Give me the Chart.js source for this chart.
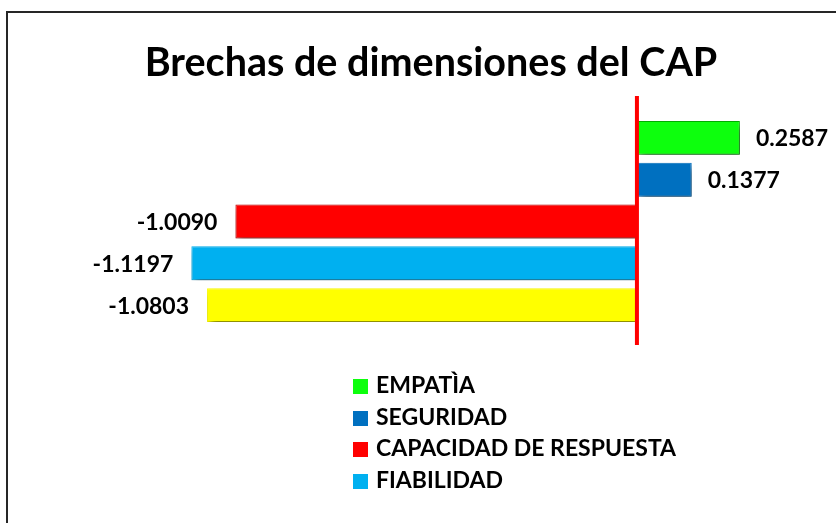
<!DOCTYPE html>
<html>
<head>
<meta charset="utf-8">
<script src="https://cdn.jsdelivr.net/npm/chart.js@4.4.1/dist/chart.umd.min.js"></script>
<style>
  html, body { margin: 0; padding: 0; background: #fff; }
  #wrap { position: relative; width: 836px; height: 523px; overflow: hidden; }
  #marco { position: absolute; left: 6px; top: 11px; width: 900px; height: 600px;
           border-left: 2px solid #262626; border-top: 2px solid #262626; }
  #grafico { position: absolute; left: 0; top: 0; }
  #leyenda { position: absolute; left: 353px; top: 369px; font-family: Lato, sans-serif;
             font-weight: bold; font-size: 23px; color: #000; }
  #leyenda div { height: 31.7px; line-height: 31.7px; white-space: nowrap; }
  #leyenda span { display: inline-block; width: 15px; height: 15px; margin-right: 8px;
                  vertical-align: -1px; }
</style>
</head>
<body>
<div id="wrap">
  <div id="marco"></div>
  <canvas id="grafico" width="836" height="523"></canvas>
  <div id="leyenda"></div>
</div>
<script>
// Datos
const dimensiones = ['EMPATÌA', 'SEGURIDAD', 'CAPACIDAD DE RESPUESTA', 'FIABILIDAD', 'ELEMENTOS TANGIBLES'];
const brechas = [0.2587, 0.1377, -1.0090, -1.1197, -1.0803];
const colores = ['#0DFF0D', '#0070C0', '#FF0000', '#00B0F0', '#FFFF00'];
const bordes = ['#00B000', '#0070C0', '#C00000', '#00B0F0', '#FFFF00'];
const itemsLeyenda = 4; // en el original solo se ven 4 entradas

// Leyenda en HTML (la quinta entrada queda cortada en el original)
const leyenda = document.getElementById('leyenda');
dimensiones.slice(0, itemsLeyenda).forEach((nombre, i) => {
  const fila = document.createElement('div');
  fila.innerHTML = `<span style="background:${colores[i]}"></span>${nombre}`;
  leyenda.appendChild(fila);
});

// Sombra de las barras, linea roja en cero y etiquetas de valor
const extras = {
  id: 'extras',
  beforeDatasetsDraw(chart) {
    const ctx = chart.ctx;
    ctx.save();
    ctx.shadowColor = 'rgba(0,0,0,0.5)';
    ctx.shadowBlur = 7;
    ctx.shadowOffsetX = 3;
    ctx.shadowOffsetY = 5;
  },
  afterDatasetsDraw(chart) {
    const ctx = chart.ctx;
    ctx.restore();
    const x = chart.scales.x;
    const area = chart.chartArea;
    const x0 = x.getPixelForValue(0);

    ctx.save();
    ctx.fillStyle = '#FF0000';
    ctx.fillRect(x0 - 2, area.top - 21, 4, area.bottom - area.top + 40);

    ctx.fillStyle = '#000';
    ctx.font = 'bold 23px Lato, sans-serif';
    ctx.textBaseline = 'middle';
    chart.getDatasetMeta(0).data.forEach((bar, i) => {
      const v = brechas[i];
      const txt = v.toFixed(4);
      if (v >= 0) {
        ctx.textAlign = 'left';
        ctx.fillText(txt, bar.x + 16, bar.y + 1);
      } else {
        ctx.textAlign = 'right';
        ctx.fillText(txt, bar.x - 18, bar.y + 1);
      }
    });
    ctx.restore();
  }
};

new Chart(document.getElementById('grafico'), {
  type: 'bar',
  data: {
    labels: dimensiones,
    datasets: [{
      data: brechas,
      backgroundColor: colores,
      borderColor: bordes,
      borderWidth: 1,
      borderSkipped: false,
      categoryPercentage: 1,
      barPercentage: 0.81
    }]
  },
  options: {
    indexAxis: 'y',
    responsive: false,
    animation: false,
    layout: { padding: { left: 46, right: 20, top: 0, bottom: 197 } },
    scales: {
      x: { display: false, min: -1.485, max: 0.45 },
      y: { display: false }
    },
    plugins: {
      legend: { display: false },
      tooltip: { enabled: false },
      title: {
        display: true,
        text: 'Brechas de dimensiones del CAP',
        color: '#000',
        font: { family: 'Lato, sans-serif', size: 39.5, weight: 'bold', lineHeight: 1.2 },
        padding: { top: 40, bottom: 29.6 }
      }
    }
  },
  plugins: [extras]
});
</script>
</body>
</html>
